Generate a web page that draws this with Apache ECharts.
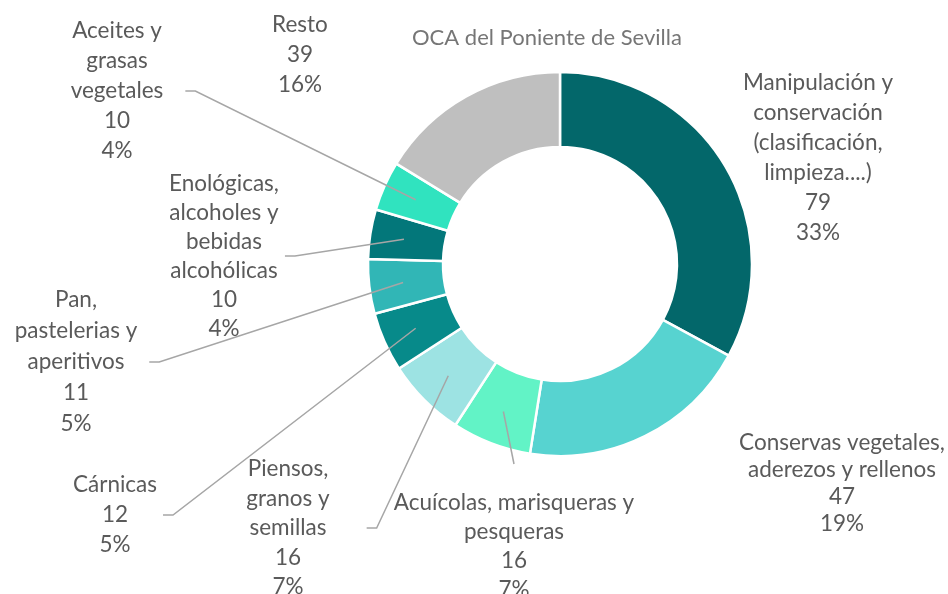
<!DOCTYPE html>
<html>
<head>
<meta charset="utf-8">
<script src="https://cdn.jsdelivr.net/npm/echarts@6/dist/echarts.min.js"></script>
<style>
html, body { margin: 0; padding: 0; background: #fff; }
#chart { width: 948px; height: 594px; }
</style>
</head>
<body>
<div id="chart"></div>
<script>
var categories = [
    'Manipulación y\nconservación\n(clasificación,\nlimpieza....)',
    'Conservas vegetales,\naderezos y rellenos',
    'Acuícolas, marisqueras y\npesqueras',
    'Piensos,\ngranos y\nsemillas',
    'Cárnicas',
    'Pan,\npastelerias y\naperitivos',
    'Enológicas,\nalcoholes y\nbebidas\nalcohólicas',
    'Aceites y\ngrasas\nvegetales',
    'Resto'
];
var values = [79, 47, 16, 16, 12, 11, 10, 10, 39];
var percents = [33, 19, 7, 7, 5, 5, 4, 4, 16];

var colors = ['#03676A', '#57D3D0', '#62F3C6', '#9DE3E3', '#078A8A',
              '#31B6B6', '#03777A', '#30E3BF', '#BFBFBF'];

// where each label block sits (centre), its line height and where its leader line attaches
var labelBoxes = [
    { x: 818, y: 158, lh: 30, side: null },
    { x: 842, y: 483, lh: 27, side: null },
    { x: 514, y: 546, lh: 29, side: 'top', gap: 24 },
    { x: 288, y: 528, lh: 29.5, side: 'right', gap: 37 },
    { x: 115, y: 515, lh: 30, side: 'right', gap: 6 },
    { x: 76, y: 362, lh: 31, side: 'right', gap: 12 },
    { x: 224, y: 256, lh: 29, side: 'right', gap: 6 },
    { x: 117, y: 91, lh: 30, side: 'right', gap: 22 },
    { x: 300, y: 55, lh: 30, side: null }
];

var dom = document.getElementById('chart');
var myChart = echarts.init(dom);

var ringData = [];
var labelData = [];
for (var i = 0; i < values.length; i++) {
    ringData.push({ name: categories[i], value: values[i], itemStyle: { color: colors[i] } });
    labelData.push({
        name: categories[i],
        value: values[i],
        label: { lineHeight: labelBoxes[i].lh },
        labelLine: { show: labelBoxes[i].side != null }
    });
}

var option = {
    animation: false,
    title: {
        text: 'OCA del Poniente de Sevilla',
        left: 412,
        top: 27,
        padding: 0,
        textStyle: {
            color: '#767676',
            fontFamily: 'Lato',
            fontSize: 22,
            fontWeight: 'normal'
        }
    },
    series: [{
        type: 'pie',
        center: [560, 264],
        radius: [117, 192],
        startAngle: 90,
        clockwise: true,
        silent: true,
        label: { show: false },
        labelLine: { show: false },
        itemStyle: { borderColor: '#fff', borderWidth: 2.5 },
        data: ringData
    }, {
        // thin ring at mid depth that carries the labels and leader lines
        type: 'pie',
        center: [560, 264],
        radius: [156, 158],
        startAngle: 90,
        clockwise: true,
        silent: true,
        z: 3,
        itemStyle: { color: 'rgba(0,0,0,0)', borderWidth: 0 },
        label: {
            show: true,
            position: 'outside',
            color: '#5a5a5a',
            fontFamily: 'Lato',
            fontSize: 22.5,
            align: 'center',
            formatter: function(p) {
                return p.name + '\n' + values[p.dataIndex] + '\n' + percents[p.dataIndex] + '%';
            }
        },
        labelLine: {
            show: true,
            length: 10,
            length2: 10,
            lineStyle: { color: '#A6A6A6', width: 1.5 }
        },
        labelLayout: function(params) {
            var b = labelBoxes[params.dataIndex];
            var res = { x: b.x, y: b.y, align: 'center', verticalAlign: 'middle' };
            var pts = params.labelLinePoints;
            if (b.side && pts) {
                var w = params.labelRect.width, h = params.labelRect.height;
                var start = pts[0], edge, stub;
                if (b.side === 'right') {
                    edge = [b.x + w / 2 + b.gap, b.y];
                    stub = [edge[0] + 10, b.y];
                } else {
                    edge = [b.x, b.y - h / 2 - b.gap];
                    stub = edge;
                }
                res.labelLinePoints = [start, stub, edge];
            }
            return res;
        },
        data: labelData
    }]
};

myChart.setOption(option);

window.onresize = function() {
    myChart.resize();
};
</script>
</body>
</html>
